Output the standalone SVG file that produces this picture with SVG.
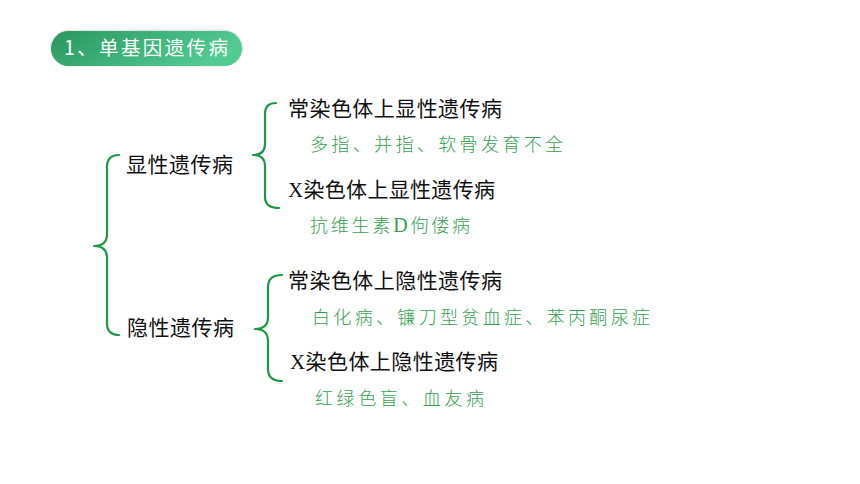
<svg xmlns="http://www.w3.org/2000/svg" width="860" height="484" viewBox="0 0 860 484">
<defs>
<linearGradient id="pillGrad" x1="0" y1="0" x2="1" y2="0.3">
<stop offset="0" stop-color="#2a955f"/>
<stop offset="1" stop-color="#52cb92"/>
</linearGradient>
<style>
.brace{fill:none;stroke:#1e9848;stroke-width:2.2;stroke-linecap:round;stroke-linejoin:round}
.main{font-family:"Noto Sans CJK SC","Noto Sans",sans-serif;font-size:21px;fill:#111}
.sub{font-family:"Noto Sans CJK SC","Noto Sans",sans-serif;font-size:18px;fill:#35a050;font-weight:300}
.ser{font-family:"Liberation Serif",serif}
.title{font-family:"Noto Sans CJK SC","Noto Sans",sans-serif;font-size:19.5px;fill:#ffffff}
</style>
</defs>
<rect width="860" height="484" fill="#ffffff"/>
<g id="title">
<rect x="50" y="29.5" width="193" height="37" rx="18.5" fill="#d9d9d9" opacity="0.6"/>
<rect x="51" y="31" width="191" height="35" rx="17.5" fill="url(#pillGrad)"/>
<text class="title" x="64" y="55" textLength="164" lengthAdjust="spacing">1、单基因遗传病</text>
</g>
<g id="connectors">
<path class="brace" d="M119,155 Q107,155 107,167 L107,234 Q107,246 94,246 Q107,246 107,258 L107,323 Q107,335 119,335"/>
<path class="brace" d="M276,103 Q265,103 265,114 L265,144 Q265,155 253,155 Q265,155 265,166 L265,197 Q265,208 279,208"/>
<path class="brace" d="M282,275 Q268,275 268,287 L268,317 Q268,329 255,329 Q268,329 268,341 L268,369 Q268,381 282,381"/>
</g>
<g id="dominant">
<text class="main" x="126" y="172" textLength="107" lengthAdjust="spacing">显性遗传病</text>
</g>
<g id="autosomal-dominant">
<text class="main" x="288" y="116" textLength="214" lengthAdjust="spacing">常染色体上显性遗传病</text>
<text class="sub" x="310" y="151" textLength="253" lengthAdjust="spacing">多指、并指、软骨发育不全</text>
</g>
<g id="x-dominant">
<text class="main" x="288" y="197" textLength="207" lengthAdjust="spacing"><tspan class="ser">X</tspan>染色体上显性遗传病</text>
<text class="sub" x="310" y="232" textLength="160" lengthAdjust="spacing">抗维生素<tspan class="ser" font-size="20px" font-weight="normal">D</tspan>佝偻病</text>
</g>
<g id="recessive">
<text class="main" x="127" y="335" textLength="107" lengthAdjust="spacing">隐性遗传病</text>
</g>
<g id="autosomal-recessive">
<text class="main" x="288" y="288" textLength="214" lengthAdjust="spacing">常染色体上隐性遗传病</text>
<text class="sub" x="312" y="324" textLength="338" lengthAdjust="spacing">白化病、镰刀型贫血症、苯丙酮尿症</text>
</g>
<g id="x-recessive">
<text class="main" x="290" y="369" textLength="208" lengthAdjust="spacing"><tspan class="ser">X</tspan>染色体上隐性遗传病</text>
<text class="sub" x="315" y="405" textLength="169" lengthAdjust="spacing">红绿色盲、血友病</text>
</g>
</svg>
